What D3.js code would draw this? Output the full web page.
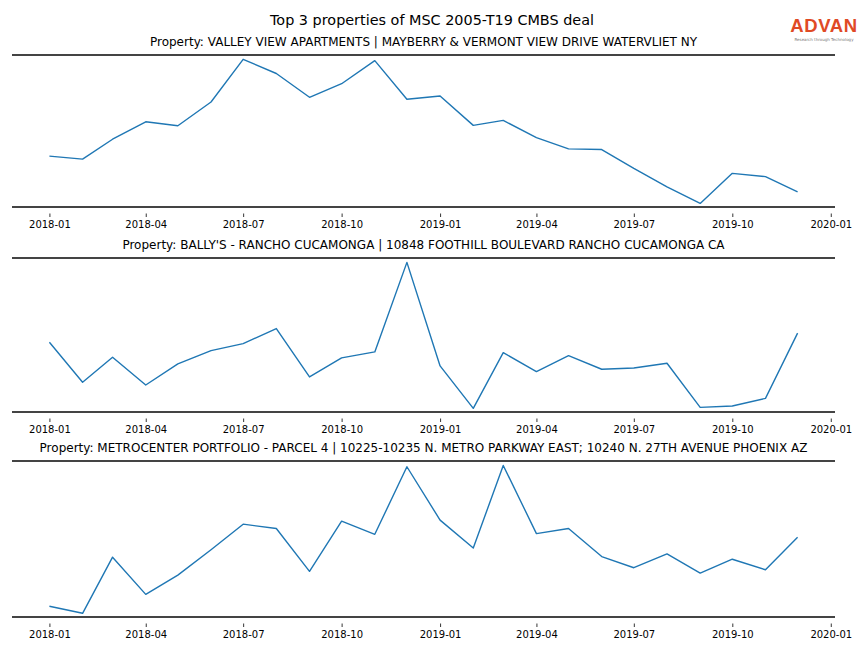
<!DOCTYPE html>
<html><head><meta charset="utf-8">
<script src="https://cdn.jsdelivr.net/npm/d3@7"></script>
<style>body{margin:0;background:#fff;} svg{display:block;font-family:"DejaVu Sans",sans-serif;}</style>
</head><body>
<script>
const months = ["2018-01","2018-02","2018-03","2018-04","2018-05","2018-06","2018-07","2018-08","2018-09","2018-10","2018-11","2018-12",
"2019-01","2019-02","2019-03","2019-04","2019-05","2019-06","2019-07","2019-08","2019-09","2019-10","2019-11","2019-12"];
const tickLabels = ["2018-01","2018-04","2018-07","2018-10","2019-01","2019-04","2019-07","2019-10","2020-01"];
const titles = [
 "Property: VALLEY VIEW APARTMENTS | MAYBERRY & VERMONT VIEW DRIVE WATERVLIET NY",
 "Property: BALLY'S - RANCHO CUCAMONGA | 10848 FOOTHILL BOULEVARD RANCHO CUCAMONGA CA",
 "Property: METROCENTER PORTFOLIO - PARCEL 4 | 10225-10235 N. METRO PARKWAY EAST; 10240 N. 27TH AVENUE PHOENIX AZ"
];
const valleyView = [507,477,677,853,813,1053,1483,1340,1100,1237,1470,1080,1113,817,867,693,580,573,383,197,30,333,300,147];
const ballys = [697,297,547,270,480,613,683,833,350,540,600,1493,460,37,593,403,563,427,440,487,47,60,137,787];
const metrocenter = [110,40,594,227,417,667,920,877,454,950,820,1487,960,684,1500,827,877,600,490,627,437,574,470,790];
const seriesList = [valleyView, ballys, metrocenter];

const W = 864, H = 648;
const svg = d3.select("body").append("svg").attr("width", W).attr("height", H);
const parse = d3.timeParse("%Y-%m");
const dates = months.map(parse);

svg.append("text").attr("x", 432).attr("y", 25).attr("text-anchor","middle")
  .attr("font-size", 14.4).attr("fill","#000").text("Top 3 properties of MSC 2005-T19 CMBS deal");

// logo
svg.append("text").attr("x", 824).attr("y", 32).attr("text-anchor","middle")
  .attr("font-size", 18.5).attr("font-weight","bold").attr("fill","#e04a25")
  .attr("font-family","Liberation Sans, Arial, sans-serif").attr("letter-spacing", 0.6).text("ADVAN");
svg.append("text").attr("x", 824).attr("y", 40.5).attr("text-anchor","middle")
  .attr("font-size", 4).attr("fill","#777").text("Research through Technology");

const panels = [{top:55, bottom:207}, {top:258, bottom:412}, {top:461, bottom:617}];
const left = 12, right = 835;
const t0 = dates[0].getTime(), t1 = dates[dates.length-1].getTime(), span = t1 - t0;
const x = d3.scaleTime().domain([new Date(t0 - 0.05*span), new Date(t1 + 0.05*span)]).range([left, right]);
const ticks = tickLabels.map(parse);

panels.forEach((p, i) => {
  const vals = seriesList[i];
  const mn = d3.min(vals), mx = d3.max(vals), s = mx - mn;
  const y = d3.scaleLinear().domain([mn - 0.025*s, mx + 0.03*s]).range([p.bottom, p.top]);
  const g = svg.append("g");
  g.append("text").attr("x", (left+right)/2).attr("y", p.top - 9).attr("text-anchor","middle")
    .attr("font-size", 12).attr("fill","#000").text(titles[i]);
  const ax = g.append("g").attr("transform", `translate(0,${p.bottom + 6.5})`)
    .call(d3.axisBottom(x).tickValues(ticks).tickFormat(d3.timeFormat("%Y-%m")).tickSize(3.5).tickPadding(3.5));
  ax.select(".domain").remove();
  ax.selectAll(".tick line").attr("stroke","#000").attr("stroke-width",0.8);
  ax.selectAll(".tick text").attr("font-size", 10).attr("fill","#000").attr("font-family","DejaVu Sans, sans-serif");
  g.append("line").attr("x1", left).attr("x2", right).attr("y1", p.top).attr("y2", p.top)
    .attr("stroke","#444").attr("stroke-width",1.8);
  g.append("line").attr("x1", left).attr("x2", right).attr("y1", p.bottom).attr("y2", p.bottom)
    .attr("stroke","#444").attr("stroke-width",1.8);
  g.append("path").datum(vals).attr("fill","none").attr("stroke","#1f77b4").attr("stroke-width",1.4)
    .attr("stroke-linejoin","round")
    .attr("d", d3.line().x((d,j) => x(dates[j])).y(d => y(d)));
});
</script>
</body></html>
